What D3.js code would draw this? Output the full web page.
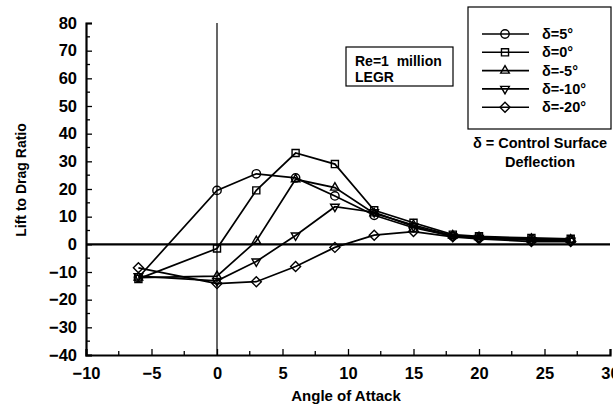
<!DOCTYPE html>
<html>
<head>
<meta charset="utf-8">
<script src="https://cdn.jsdelivr.net/npm/d3@7"></script>
<style>
  html, body { margin: 0; padding: 0; background: #fff; }
  svg { display: block; font-family: "Liberation Sans", Arial, Helvetica, sans-serif; font-weight: bold; }
  .pre { white-space: pre; }
</style>
</head>
<body>
<svg id="chart" width="613" height="408"></svg>
<script>
// Angle of attack (deg) at which each configuration was tested
const angles = [-6, 0, 3, 6, 9, 12, 15, 18, 20, 24, 27];

// Lift-to-drag ratio for each control surface deflection
const ldDelta5   = [-12.0, 19.5, 25.5, 24.0, 17.5, 10.5, 6.0, 3.0, 2.5, 1.8, 1.5];
const ldDelta0   = [-12.5, -1.5, 19.5, 33.0, 29.0, 12.3, 7.8, 3.5, 2.9, 2.3, 2.0];
const ldDeltaM5  = [-12.0, -11.5, 1.2, 23.5, 20.5, 11.2, 7.0, 3.2, 2.6, 2.0, 1.7];
const ldDeltaM10 = [-11.5, -13.2, -6.2, 3.2, 13.6, 11.6, 6.5, 2.9, 2.3, 1.5, 1.3];
const ldDeltaM20 = [-8.5, -14.2, -13.5, -8.0, -1.1, 3.3, 4.6, 2.7, 2.0, 1.0, 1.0];

const seriesLabels = ["δ=5°", "δ=0°", "δ=-5°", "δ=-10°", "δ=-20°"];
const seriesValues = [ldDelta5, ldDelta0, ldDeltaM5, ldDeltaM10, ldDeltaM20];
const seriesMarkers = ["circle", "square", "triangle", "triangleDown", "diamond"];

const xTicks = [-10, -5, 0, 5, 10, 15, 20, 25, 30];
const yTicks = [-40, -30, -20, -10, 0, 10, 20, 30, 40, 50, 60, 70, 80];

const svg = d3.select("#chart");
const plot = { left: 86, right: 610, top: 23, bottom: 355 };

const x = d3.scaleLinear().domain([-10, 30]).range([plot.left, plot.right]);
const y = d3.scaleLinear().domain([-40, 80]).range([plot.bottom, plot.top]);

// marker path generator
function markerPath(kind) {
  switch (kind) {
    case "circle": return d3.symbol(d3.symbolCircle, 55)();
    case "square": return d3.symbol(d3.symbolSquare, 50)();
    case "triangle": return d3.symbol(d3.symbolTriangle, 32)();
    case "triangleDown": return d3.symbol(d3.symbolTriangle, 32)();
    case "diamond": return d3.symbol(d3.symbolSquare, 50)();
  }
}
function markerRotate(kind) {
  if (kind === "triangleDown") return 180;
  if (kind === "diamond") return 45;
  return 0;
}

// reference lines at alpha = 0 and L/D = 0
svg.append("line")
  .attr("x1", x(0)).attr("x2", x(0))
  .attr("y1", y(80)).attr("y2", y(-40))
  .attr("stroke", "#000").attr("stroke-width", 1.2);
svg.append("line")
  .attr("x1", x(-10)).attr("x2", x(30))
  .attr("y1", y(0)).attr("y2", y(0))
  .attr("stroke", "#000").attr("stroke-width", 2.2);

// y axis: labelled majors every 10, minors every 5, ticks drawn inward
const yAxis = d3.axisLeft(y).tickValues(yTicks).tickSize(-6).tickPadding(9).tickFormat(d3.format("d"));
const gy = svg.append("g").attr("transform", `translate(${plot.left},0)`).call(yAxis);
gy.select(".domain").attr("stroke-width", 2.2);
gy.selectAll(".tick line").attr("stroke-width", 1.3);
gy.selectAll(".tick text").attr("font-size", 16.5).attr("font-weight", "bold")
  .attr("font-family", "Liberation Sans, Arial, sans-serif").attr("fill", "#000");
const yMinor = d3.range(-35, 80, 10);
svg.append("g").selectAll("line").data(yMinor).join("line")
  .attr("x1", plot.left).attr("x2", plot.left + 4)
  .attr("y1", d => y(d)).attr("y2", d => y(d))
  .attr("stroke", "#000").attr("stroke-width", 1.3);

// x axis: labelled majors every 5, minors every 2.5
const xAxis = d3.axisBottom(x).tickValues(xTicks).tickSize(-6).tickPadding(12).tickFormat(d3.format("d"));
const gx = svg.append("g").attr("transform", `translate(0,${plot.bottom})`).call(xAxis);
gx.select(".domain").attr("stroke-width", 2.2);
gx.selectAll(".tick line").attr("stroke-width", 1.3);
gx.selectAll(".tick text").attr("font-size", 16.5).attr("font-weight", "bold")
  .attr("font-family", "Liberation Sans, Arial, sans-serif").attr("fill", "#000");
const xMinor = d3.range(-7.5, 30, 5);
svg.append("g").selectAll("line").data(xMinor).join("line")
  .attr("x1", d => x(d)).attr("x2", d => x(d))
  .attr("y1", plot.bottom).attr("y2", plot.bottom - 4)
  .attr("stroke", "#000").attr("stroke-width", 1.3);

// axis titles
svg.append("text").attr("x", 346).attr("y", 401).attr("text-anchor", "middle")
  .attr("font-size", 15).text("Angle of Attack");
svg.append("text").attr("transform", "translate(26,180) rotate(-90)").attr("text-anchor", "middle")
  .attr("font-size", 14).text("Lift to Drag Ratio");

// data series
const line = d3.line().x((d, i) => x(angles[i])).y(d => y(d));
seriesValues.forEach((vals, s) => {
  const g = svg.append("g");
  g.append("path").datum(vals).attr("d", line)
    .attr("fill", "none").attr("stroke", "#000").attr("stroke-width", 1.7);
  g.selectAll("path.m").data(vals).join("path").attr("class", "m")
    .attr("d", markerPath(seriesMarkers[s]))
    .attr("transform", (d, i) => `translate(${x(angles[i])},${y(d)}) rotate(${markerRotate(seriesMarkers[s])})`)
    .attr("fill", "none").attr("stroke", "#000").attr("stroke-width", 1.4);
});

// annotation box
svg.append("rect").attr("x", 346).attr("y", 47).attr("width", 107).attr("height", 39)
  .attr("fill", "#fff").attr("stroke", "#000").attr("stroke-width", 1.2);
svg.append("text").attr("class", "pre").attr("x", 355).attr("y", 66).attr("font-size", 14).text("Re=1  million");
svg.append("text").attr("x", 355).attr("y", 82).attr("font-size", 14).text("LEGR");

// legend
svg.append("rect").attr("x", 468).attr("y", 7).attr("width", 143).attr("height", 122)
  .attr("fill", "#fff").attr("stroke", "#000").attr("stroke-width", 1.2);
const legend = svg.append("g");
seriesLabels.forEach((lab, s) => {
  const ly = 34 + s * 18.3;
  legend.append("line").attr("x1", 482).attr("x2", 529).attr("y1", ly).attr("y2", ly)
    .attr("stroke", "#000").attr("stroke-width", 1.6);
  legend.append("path").attr("d", markerPath(seriesMarkers[s]))
    .attr("transform", `translate(505,${ly}) rotate(${markerRotate(seriesMarkers[s])})`)
    .attr("fill", "none").attr("stroke", "#000").attr("stroke-width", 1.4);
  legend.append("text").attr("x", 542).attr("y", ly + 5).attr("font-size", 14.5).text(lab);
});
svg.append("text").attr("x", 540).attr("y", 148).attr("text-anchor", "middle")
  .attr("font-size", 14.5).text("δ = Control Surface");
svg.append("text").attr("x", 540).attr("y", 167).attr("text-anchor", "middle")
  .attr("font-size", 14.5).text("Deflection");
</script>
</body>
</html>
